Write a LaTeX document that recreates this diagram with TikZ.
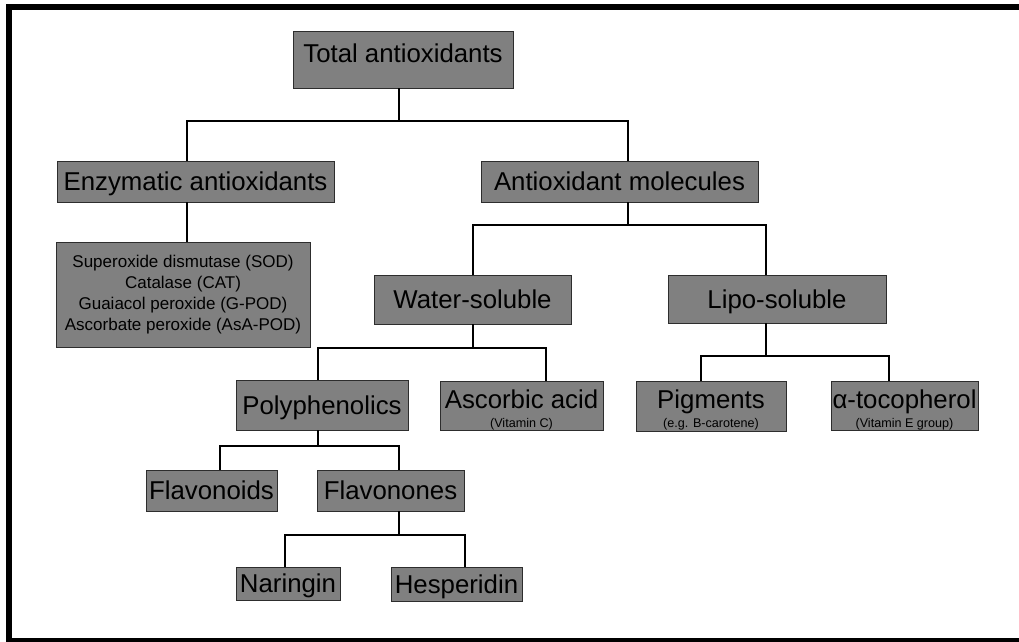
\documentclass[tikz,border=0pt]{standalone}
\usepackage{fontspec}
\setmainfont{Liberation Sans}
\usepackage{xcolor}
\usepackage{tikz}

\definecolor{boxfill}{RGB}{128,128,128}
\definecolor{boxline}{RGB}{45,45,45}
\newcommand{\subnote}[1]{{\fontsize{12.6}{19}\selectfont #1}}

\begin{document}
\begin{tikzpicture}[x=1pt, y=-1pt,
        % Node Styles
        base/.style={rectangle, draw=boxline, fill=boxfill, line width=0.8pt, inner sep=0pt, text=black},
        item/.style={base, font=\fontsize{25.8}{31}\selectfont, text height=18.6pt, text depth=0pt},
        twoline/.style={base, align=center, font=\fontsize{25.8}{19}\selectfont, text height=46pt, text depth=3pt},
        listbox/.style={base, align=center, font=\fontsize{17}{21}\selectfont},
        branch/.style={line width=2pt, draw=black}
    ]
    \useasboundingbox (0,0) rectangle (1019,641);

    % --- Outer frame (cut by the page on the right) ---
    \draw[line width=6pt] (9,7) rectangle (1025,640.5);

    % --- 1. Top levels ---
    \node[item, minimum width=220pt, minimum height=57pt, text depth=13pt] (total) at (403,59.5) {Total antioxidants};
    \node[item, minimum width=277pt, minimum height=41pt] (enz) at (195.5,181.5) {Enzymatic antioxidants};
    \node[item, minimum width=277pt, minimum height=41pt] (mol) at (619.5,181.5) {Antioxidant molecules};
    \node[listbox, minimum width=254pt, minimum height=105pt] (enzlist) at (183,294.5)
        {Superoxide dismutase (SOD)\\Catalase (CAT)\\Guaiacol peroxide (G-POD)\\Ascorbate peroxide (AsA-POD)};

    % --- 2. Solubility groups ---
    \node[item, minimum width=197pt, minimum height=49pt] (water) at (472.5,299.5) {Water-soluble};
    \node[item, minimum width=218pt, minimum height=48pt] (lipo) at (777,299) {Lipo-soluble};

    % --- 3. Compound classes ---
    \node[item, minimum width=172pt, minimum height=50pt] (poly) at (322,405) {Polyphenolics};
    \node[twoline, minimum width=163pt, minimum height=49pt] (asc) at (521.5,405.5) {Ascorbic acid\\\subnote{(Vitamin C)}};
    \node[twoline, minimum width=150pt, minimum height=50pt] (pig) at (711,406) {Pigments\\\subnote{(e.g. B-carotene)}};
    \node[twoline, minimum width=147pt, minimum height=49pt] (toco) at (904.5,405.5) {α-tocopherol\\\subnote{(Vitamin E group)}};

    % --- 4. Polyphenolic sub-classes ---
    \node[item, minimum width=131pt, minimum height=41pt] (flavd) at (211.5,490.5) {Flavonoids};
    \node[item, minimum width=147pt, minimum height=41pt] (flavn) at (390.5,490.5) {Flavonones};
    \node[item, minimum width=104pt, minimum height=33pt] (nar) at (288,583.5) {Naringin};
    \node[item, minimum width=131pt, minimum height=34pt] (hes) at (456.5,584) {Hesperidin};

    % --- Tree Connections ---
    \draw[branch] ([xshift=-4]total.south) -- ++(0,33) -| ([xshift=-8.5]enz.north);
    \draw[branch] ([xshift=-4]total.south) -- ++(0,33) -| ([xshift=8.5]mol.north);
    \draw[branch] ([xshift=-8.5]enz.south) -- ([xshift=4]enzlist.north);

    \draw[branch] ([xshift=8.5]mol.south) -- ++(0,23) -| (water.north);
    \draw[branch] ([xshift=8.5]mol.south) -- ++(0,23) -| ([xshift=-11]lipo.north);

    \draw[branch] (water.south) -- ++(0,23.5) -| ([xshift=-4]poly.north);
    \draw[branch] (water.south) -- ++(0,23.5) -| ([xshift=24.5]asc.north);
    \draw[branch] ([xshift=-11]lipo.south) -- ++(0,33) -| ([xshift=-10]pig.north);
    \draw[branch] ([xshift=-11]lipo.south) -- ++(0,33) -| ([xshift=-15.5]toco.north);

    \draw[branch] ([xshift=-4]poly.south) -- ++(0,16) -| ([xshift=8.5]flavd.north);
    \draw[branch] ([xshift=-4]poly.south) -- ++(0,16) -| ([xshift=8.5]flavn.north);
    \draw[branch] ([xshift=8.5]flavn.south) -- ++(0,24) -| ([xshift=-3]nar.north);
    \draw[branch] ([xshift=8.5]flavn.south) -- ++(0,24) -| ([xshift=8.5]hes.north);

\end{tikzpicture}
\end{document}
